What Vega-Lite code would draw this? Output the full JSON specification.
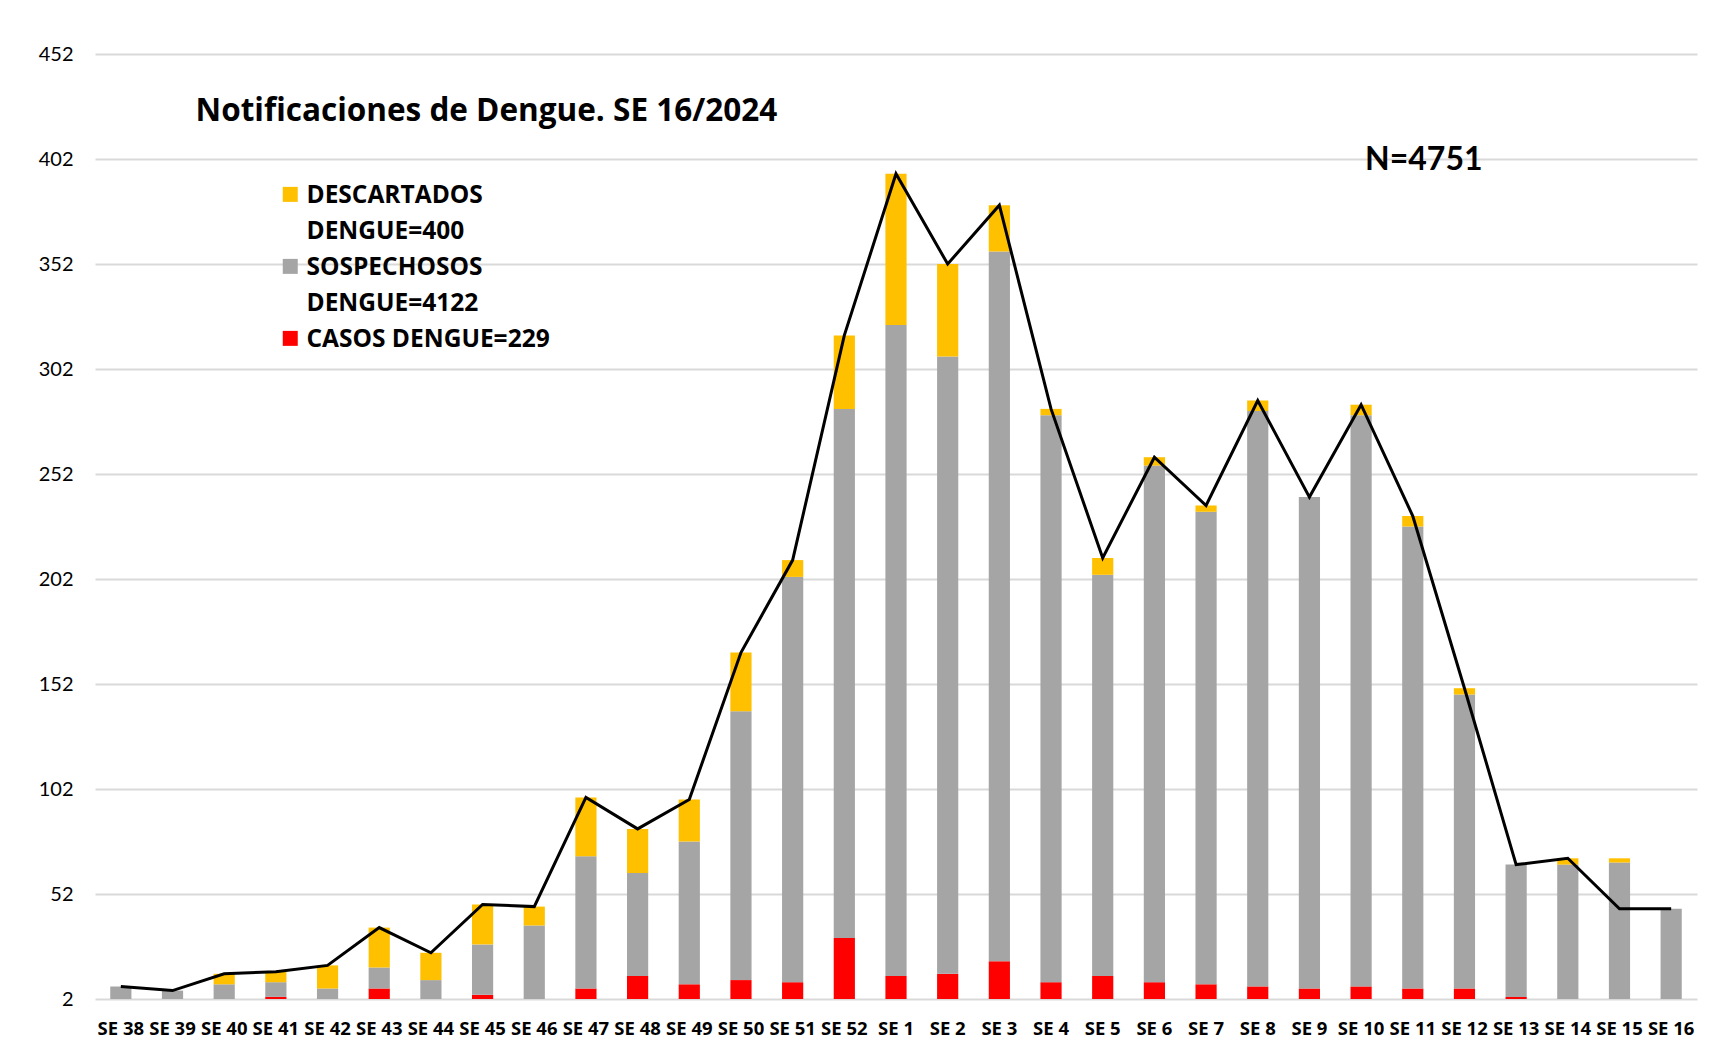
{
  "$schema": "https://vega.github.io/schema/vega-lite/v6.json",
  "width": 1602,
  "height": 945,
  "padding": {"left": 5, "top": 44, "right": 17, "bottom": 5},
  "autosize": {"type": "pad"},
  "background": "white",
  "config": {
    "font": "Lato",
    "view": {"stroke": null},
    "style": {"guide-label": {"lineHeight": 36}}
  },
  "datasets": {
    "barras": [
      {"semana": "SE 38", "serie": "CASOS DENGUE=229", "orden": 1, "n": 0},
      {"semana": "SE 38", "serie": "SOSPECHOSOS DENGUE=4122", "orden": 2, "n": 8},
      {"semana": "SE 38", "serie": "DESCARTADOS DENGUE=400", "orden": 3, "n": 0},
      {"semana": "SE 39", "serie": "CASOS DENGUE=229", "orden": 1, "n": 0},
      {"semana": "SE 39", "serie": "SOSPECHOSOS DENGUE=4122", "orden": 2, "n": 6},
      {"semana": "SE 39", "serie": "DESCARTADOS DENGUE=400", "orden": 3, "n": 0},
      {"semana": "SE 40", "serie": "CASOS DENGUE=229", "orden": 1, "n": 0},
      {"semana": "SE 40", "serie": "SOSPECHOSOS DENGUE=4122", "orden": 2, "n": 9},
      {"semana": "SE 40", "serie": "DESCARTADOS DENGUE=400", "orden": 3, "n": 5},
      {"semana": "SE 41", "serie": "CASOS DENGUE=229", "orden": 1, "n": 3},
      {"semana": "SE 41", "serie": "SOSPECHOSOS DENGUE=4122", "orden": 2, "n": 7},
      {"semana": "SE 41", "serie": "DESCARTADOS DENGUE=400", "orden": 3, "n": 5},
      {"semana": "SE 42", "serie": "CASOS DENGUE=229", "orden": 1, "n": 1},
      {"semana": "SE 42", "serie": "SOSPECHOSOS DENGUE=4122", "orden": 2, "n": 6},
      {"semana": "SE 42", "serie": "DESCARTADOS DENGUE=400", "orden": 3, "n": 11},
      {"semana": "SE 43", "serie": "CASOS DENGUE=229", "orden": 1, "n": 7},
      {"semana": "SE 43", "serie": "SOSPECHOSOS DENGUE=4122", "orden": 2, "n": 10},
      {"semana": "SE 43", "serie": "DESCARTADOS DENGUE=400", "orden": 3, "n": 19},
      {"semana": "SE 44", "serie": "CASOS DENGUE=229", "orden": 1, "n": 0},
      {"semana": "SE 44", "serie": "SOSPECHOSOS DENGUE=4122", "orden": 2, "n": 11},
      {"semana": "SE 44", "serie": "DESCARTADOS DENGUE=400", "orden": 3, "n": 13},
      {"semana": "SE 45", "serie": "CASOS DENGUE=229", "orden": 1, "n": 4},
      {"semana": "SE 45", "serie": "SOSPECHOSOS DENGUE=4122", "orden": 2, "n": 24},
      {"semana": "SE 45", "serie": "DESCARTADOS DENGUE=400", "orden": 3, "n": 19},
      {"semana": "SE 46", "serie": "CASOS DENGUE=229", "orden": 1, "n": 0},
      {"semana": "SE 46", "serie": "SOSPECHOSOS DENGUE=4122", "orden": 2, "n": 37},
      {"semana": "SE 46", "serie": "DESCARTADOS DENGUE=400", "orden": 3, "n": 9},
      {"semana": "SE 47", "serie": "CASOS DENGUE=229", "orden": 1, "n": 7},
      {"semana": "SE 47", "serie": "SOSPECHOSOS DENGUE=4122", "orden": 2, "n": 63},
      {"semana": "SE 47", "serie": "DESCARTADOS DENGUE=400", "orden": 3, "n": 28},
      {"semana": "SE 48", "serie": "CASOS DENGUE=229", "orden": 1, "n": 13},
      {"semana": "SE 48", "serie": "SOSPECHOSOS DENGUE=4122", "orden": 2, "n": 49},
      {"semana": "SE 48", "serie": "DESCARTADOS DENGUE=400", "orden": 3, "n": 21},
      {"semana": "SE 49", "serie": "CASOS DENGUE=229", "orden": 1, "n": 9},
      {"semana": "SE 49", "serie": "SOSPECHOSOS DENGUE=4122", "orden": 2, "n": 68},
      {"semana": "SE 49", "serie": "DESCARTADOS DENGUE=400", "orden": 3, "n": 20},
      {"semana": "SE 50", "serie": "CASOS DENGUE=229", "orden": 1, "n": 11},
      {"semana": "SE 50", "serie": "SOSPECHOSOS DENGUE=4122", "orden": 2, "n": 128},
      {"semana": "SE 50", "serie": "DESCARTADOS DENGUE=400", "orden": 3, "n": 28},
      {"semana": "SE 51", "serie": "CASOS DENGUE=229", "orden": 1, "n": 10},
      {"semana": "SE 51", "serie": "SOSPECHOSOS DENGUE=4122", "orden": 2, "n": 193},
      {"semana": "SE 51", "serie": "DESCARTADOS DENGUE=400", "orden": 3, "n": 8},
      {"semana": "SE 52", "serie": "CASOS DENGUE=229", "orden": 1, "n": 31},
      {"semana": "SE 52", "serie": "SOSPECHOSOS DENGUE=4122", "orden": 2, "n": 252},
      {"semana": "SE 52", "serie": "DESCARTADOS DENGUE=400", "orden": 3, "n": 35},
      {"semana": "SE 1", "serie": "CASOS DENGUE=229", "orden": 1, "n": 13},
      {"semana": "SE 1", "serie": "SOSPECHOSOS DENGUE=4122", "orden": 2, "n": 310},
      {"semana": "SE 1", "serie": "DESCARTADOS DENGUE=400", "orden": 3, "n": 72},
      {"semana": "SE 2", "serie": "CASOS DENGUE=229", "orden": 1, "n": 14},
      {"semana": "SE 2", "serie": "SOSPECHOSOS DENGUE=4122", "orden": 2, "n": 294},
      {"semana": "SE 2", "serie": "DESCARTADOS DENGUE=400", "orden": 3, "n": 44},
      {"semana": "SE 3", "serie": "CASOS DENGUE=229", "orden": 1, "n": 20},
      {"semana": "SE 3", "serie": "SOSPECHOSOS DENGUE=4122", "orden": 2, "n": 338},
      {"semana": "SE 3", "serie": "DESCARTADOS DENGUE=400", "orden": 3, "n": 22},
      {"semana": "SE 4", "serie": "CASOS DENGUE=229", "orden": 1, "n": 10},
      {"semana": "SE 4", "serie": "SOSPECHOSOS DENGUE=4122", "orden": 2, "n": 270},
      {"semana": "SE 4", "serie": "DESCARTADOS DENGUE=400", "orden": 3, "n": 3},
      {"semana": "SE 5", "serie": "CASOS DENGUE=229", "orden": 1, "n": 13},
      {"semana": "SE 5", "serie": "SOSPECHOSOS DENGUE=4122", "orden": 2, "n": 191},
      {"semana": "SE 5", "serie": "DESCARTADOS DENGUE=400", "orden": 3, "n": 8},
      {"semana": "SE 6", "serie": "CASOS DENGUE=229", "orden": 1, "n": 10},
      {"semana": "SE 6", "serie": "SOSPECHOSOS DENGUE=4122", "orden": 2, "n": 246},
      {"semana": "SE 6", "serie": "DESCARTADOS DENGUE=400", "orden": 3, "n": 4},
      {"semana": "SE 7", "serie": "CASOS DENGUE=229", "orden": 1, "n": 9},
      {"semana": "SE 7", "serie": "SOSPECHOSOS DENGUE=4122", "orden": 2, "n": 225},
      {"semana": "SE 7", "serie": "DESCARTADOS DENGUE=400", "orden": 3, "n": 3},
      {"semana": "SE 8", "serie": "CASOS DENGUE=229", "orden": 1, "n": 8},
      {"semana": "SE 8", "serie": "SOSPECHOSOS DENGUE=4122", "orden": 2, "n": 274},
      {"semana": "SE 8", "serie": "DESCARTADOS DENGUE=400", "orden": 3, "n": 5},
      {"semana": "SE 9", "serie": "CASOS DENGUE=229", "orden": 1, "n": 7},
      {"semana": "SE 9", "serie": "SOSPECHOSOS DENGUE=4122", "orden": 2, "n": 234},
      {"semana": "SE 9", "serie": "DESCARTADOS DENGUE=400", "orden": 3, "n": 0},
      {"semana": "SE 10", "serie": "CASOS DENGUE=229", "orden": 1, "n": 8},
      {"semana": "SE 10", "serie": "SOSPECHOSOS DENGUE=4122", "orden": 2, "n": 272},
      {"semana": "SE 10", "serie": "DESCARTADOS DENGUE=400", "orden": 3, "n": 5},
      {"semana": "SE 11", "serie": "CASOS DENGUE=229", "orden": 1, "n": 7},
      {"semana": "SE 11", "serie": "SOSPECHOSOS DENGUE=4122", "orden": 2, "n": 220},
      {"semana": "SE 11", "serie": "DESCARTADOS DENGUE=400", "orden": 3, "n": 5},
      {"semana": "SE 12", "serie": "CASOS DENGUE=229", "orden": 1, "n": 7},
      {"semana": "SE 12", "serie": "SOSPECHOSOS DENGUE=4122", "orden": 2, "n": 140},
      {"semana": "SE 12", "serie": "DESCARTADOS DENGUE=400", "orden": 3, "n": 3},
      {"semana": "SE 13", "serie": "CASOS DENGUE=229", "orden": 1, "n": 3},
      {"semana": "SE 13", "serie": "SOSPECHOSOS DENGUE=4122", "orden": 2, "n": 63},
      {"semana": "SE 13", "serie": "DESCARTADOS DENGUE=400", "orden": 3, "n": 0},
      {"semana": "SE 14", "serie": "CASOS DENGUE=229", "orden": 1, "n": 1},
      {"semana": "SE 14", "serie": "SOSPECHOSOS DENGUE=4122", "orden": 2, "n": 65},
      {"semana": "SE 14", "serie": "DESCARTADOS DENGUE=400", "orden": 3, "n": 3},
      {"semana": "SE 15", "serie": "CASOS DENGUE=229", "orden": 1, "n": 0},
      {"semana": "SE 15", "serie": "SOSPECHOSOS DENGUE=4122", "orden": 2, "n": 67},
      {"semana": "SE 15", "serie": "DESCARTADOS DENGUE=400", "orden": 3, "n": 2},
      {"semana": "SE 16", "serie": "CASOS DENGUE=229", "orden": 1, "n": 0},
      {"semana": "SE 16", "serie": "SOSPECHOSOS DENGUE=4122", "orden": 2, "n": 45},
      {"semana": "SE 16", "serie": "DESCARTADOS DENGUE=400", "orden": 3, "n": 0}
    ],
    "linea": [
      {"semana": "SE 38", "total": 8},
      {"semana": "SE 39", "total": 6},
      {"semana": "SE 40", "total": 14},
      {"semana": "SE 41", "total": 15},
      {"semana": "SE 42", "total": 18},
      {"semana": "SE 43", "total": 36},
      {"semana": "SE 44", "total": 24},
      {"semana": "SE 45", "total": 47},
      {"semana": "SE 46", "total": 46},
      {"semana": "SE 47", "total": 98},
      {"semana": "SE 48", "total": 83},
      {"semana": "SE 49", "total": 97},
      {"semana": "SE 50", "total": 167},
      {"semana": "SE 51", "total": 211},
      {"semana": "SE 52", "total": 318},
      {"semana": "SE 1", "total": 395},
      {"semana": "SE 2", "total": 352},
      {"semana": "SE 3", "total": 380},
      {"semana": "SE 4", "total": 283},
      {"semana": "SE 5", "total": 212},
      {"semana": "SE 6", "total": 260},
      {"semana": "SE 7", "total": 237},
      {"semana": "SE 8", "total": 287},
      {"semana": "SE 9", "total": 241},
      {"semana": "SE 10", "total": 285},
      {"semana": "SE 11", "total": 232},
      {"semana": "SE 12", "total": 150},
      {"semana": "SE 13", "total": 66},
      {"semana": "SE 14", "total": 69},
      {"semana": "SE 15", "total": 45},
      {"semana": "SE 16", "total": 45}
    ]
  },
  "encoding": {
    "x": {
      "field": "semana",
      "type": "nominal",
      "title": null,
      "scale": {
        "domain": ["SE 38", "SE 39", "SE 40", "SE 41", "SE 42", "SE 43", "SE 44", "SE 45", "SE 46", "SE 47", "SE 48", "SE 49", "SE 50", "SE 51", "SE 52", "SE 1", "SE 2", "SE 3", "SE 4", "SE 5", "SE 6", "SE 7", "SE 8", "SE 9", "SE 10", "SE 11", "SE 12", "SE 13", "SE 14", "SE 15", "SE 16"],
        "paddingInner": 0.59,
        "paddingOuter": 0.295
      },
      "axis": {
        "labelAngle": 0,
        "labelFont": "Open Sans",
        "labelFontWeight": "bold",
        "labelFontSize": 18.5,
        "labelColor": "#000000",
        "labelPadding": 20,
        "labelOverlap": false,
        "ticks": false,
        "domain": false,
        "grid": false
      }
    }
  },
  "layer": [
    {
      "data": {"name": "barras"},
      "mark": {"type": "bar", "clip": true},
      "encoding": {
        "y": {
          "field": "n",
          "type": "quantitative",
          "stack": "zero",
          "title": null,
          "scale": {"domain": [2, 452], "nice": false, "zero": false},
          "axis": {
            "values": [2, 52, 102, 152, 202, 252, 302, 352, 402, 452],
            "grid": true,
            "gridColor": "#D9D9D9",
            "gridWidth": 1.8,
            "domain": false,
            "ticks": false,
            "labelFont": "Lato",
            "labelFontSize": 20,
            "labelColor": "#000000",
            "labelPadding": 22,
            "minExtent": 90,
            "maxExtent": 90
          }
        },
        "color": {
          "field": "serie",
          "type": "nominal",
          "scale": {
            "domain": ["DESCARTADOS DENGUE=400", "SOSPECHOSOS DENGUE=4122", "CASOS DENGUE=229"],
            "range": ["#FFC000", "#A5A5A5", "#FF0000"]
          },
          "legend": {
            "orient": "none",
            "legendX": 183,
            "legendY": 118,
            "title": null,
            "symbolType": "M-1,0.35H1V2.35H-1Z",
            "symbolSize": 225,
            "symbolStrokeWidth": 0,
            "labelFont": "Open Sans",
            "labelFontSize": 24.5,
            "labelFontWeight": "bold",
            "labelColor": "#000000",
            "labelBaseline": "top",
            "labelOffset": 4,
            "labelLimit": 500,
            "rowPadding": 0,
            "labelExpr": "datum.label == 'CASOS DENGUE=229' ? datum.label : split(datum.label, ' ')"
          }
        },
        "order": {"field": "orden", "type": "quantitative"}
      }
    },
    {
      "data": {"name": "linea"},
      "mark": {"type": "line", "color": "#000000", "strokeWidth": 3},
      "encoding": {
        "y": {"field": "total", "type": "quantitative"}
      }
    },
    {
      "data": {"values": [{}]},
      "mark": {"type": "text", "font": "Open Sans", "fontWeight": "bold", "fontSize": 31.5, "align": "left", "baseline": "alphabetic", "dx": 23, "color": "#000000"},
      "encoding": {
        "x": {"datum": "SE 39"},
        "y": {"datum": 420},
        "text": {"value": "Notificaciones de Dengue. SE 16/2024"}
      }
    },
    {
      "data": {"values": [{}]},
      "mark": {"type": "text", "font": "Lato", "fontWeight": "bold", "fontSize": 32, "align": "left", "baseline": "alphabetic", "dx": 4, "color": "#000000"},
      "encoding": {
        "x": {"datum": "SE 10"},
        "y": {"datum": 397},
        "text": {"value": "N=4751"}
      }
    }
  ]
}
